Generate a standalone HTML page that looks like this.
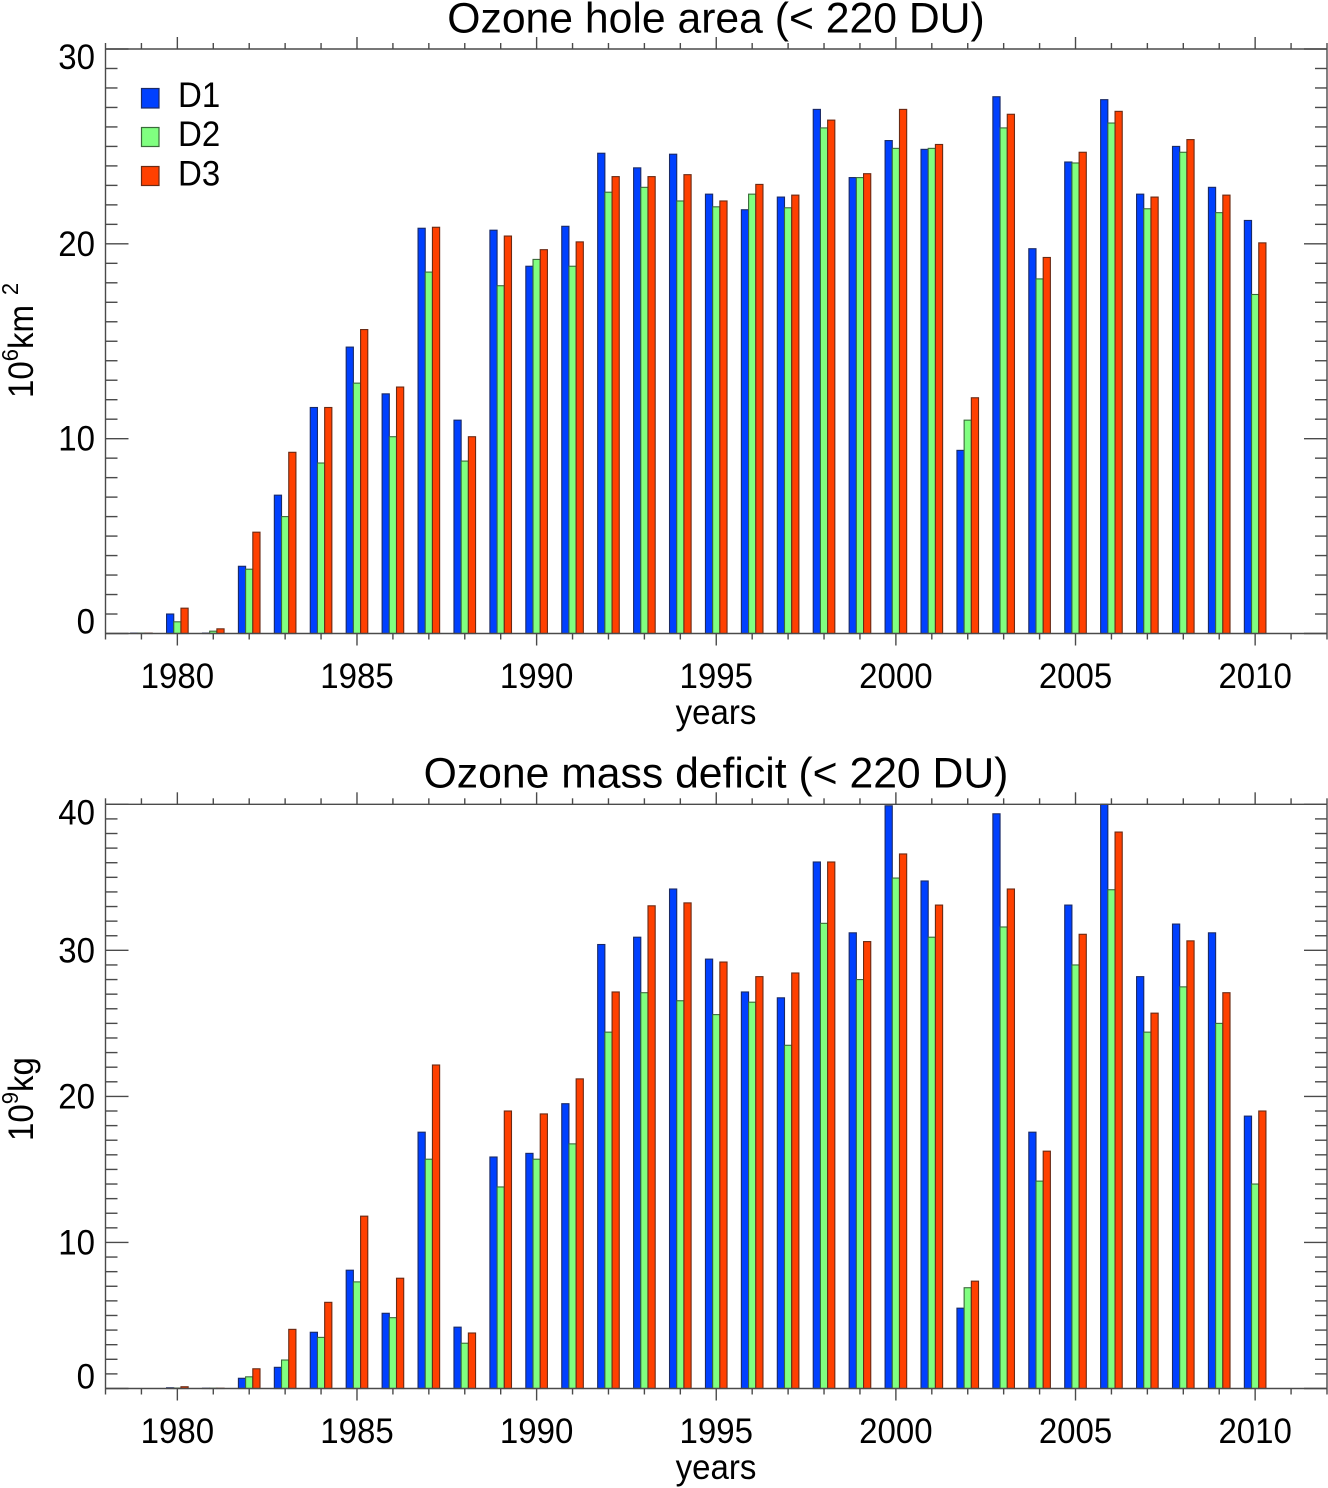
<!DOCTYPE html>
<html lang="en">
<head>
<meta charset="utf-8">
<title>Ozone hole area and mass deficit</title>
<style>
html,body{margin:0;padding:0;background:#fff}
svg{display:block}
text{font-family:"Liberation Sans",Arial,sans-serif;fill:#000}
</style>
</head>
<body>
<svg id="chart" xmlns="http://www.w3.org/2000/svg" width="1328" height="1488" viewBox="0 0 1328 1488">
  <rect x="0" y="0" width="1328" height="1488" fill="#fff"/>
  <text x="716" y="32.5" font-size="42.7" text-anchor="middle">Ozone hole area (&lt; 220 DU)</text>
  <text x="716" y="787.5" font-size="42.7" text-anchor="middle">Ozone mass deficit (&lt; 220 DU)</text>
  <text transform="translate(716,724) scale(1,1.06)" font-size="33" text-anchor="middle">years</text>
  <text transform="translate(716,1479) scale(1,1.06)" font-size="33" text-anchor="middle">years</text>
  <text transform="translate(33,398) rotate(-90) scale(1,1.06)" font-size="33">10<tspan font-size="22" dy="-14">6</tspan><tspan dy="14">km</tspan><tspan font-size="22" dy="-14" dx="10">2</tspan></text>
  <text transform="translate(33,1141) rotate(-90) scale(1,1.06)" font-size="33">10<tspan font-size="22" dy="-14">9</tspan><tspan dy="14">kg</tspan></text>
  <g>
    <rect x="141.5" y="88.5" width="17.5" height="19.5" fill="#0040ff" stroke="#1a2a66" stroke-width="1.2"/>
    <text transform="translate(178,107) scale(1,1.06)" font-size="33">D1</text>
    <rect x="141.5" y="127.5" width="17.5" height="19" fill="#80ff80" stroke="#3a6a3a" stroke-width="1.2"/>
    <text transform="translate(178,146) scale(1,1.06)" font-size="33">D2</text>
    <rect x="141.5" y="166.5" width="17.5" height="19" fill="#ff4000" stroke="#6a2a14" stroke-width="1.2"/>
    <text transform="translate(178,185.5) scale(1,1.06)" font-size="33">D3</text>
  </g>
  <g id="panels"></g>
</svg>
<script>
const years = [1979,1980,1981,1982,1983,1984,1985,1986,1987,1988,1989,1990,1991,1992,1993,1994,1995,1996,1997,1998,1999,2000,2001,2002,2003,2004,2005,2006,2007,2008,2009,2010];
const areaD1 = [0.02,1.0,0.02,3.45,7.1,11.6,14.7,12.3,20.8,10.95,20.7,18.85,20.9,24.65,23.9,24.6,22.55,21.75,22.4,26.9,23.4,25.3,24.85,9.4,27.55,19.75,24.2,27.4,22.55,25.0,22.9,21.2];
const areaD2 = [0.02,0.6,0.12,3.3,6.0,8.75,12.85,10.1,18.55,8.85,17.85,19.2,18.85,22.65,22.9,22.2,21.9,22.55,21.85,25.95,23.4,24.9,24.9,10.95,25.95,18.2,24.15,26.2,21.8,24.7,21.6,17.4];
const areaD3 = [0.02,1.3,0.24,5.2,9.3,11.6,15.6,12.65,20.85,10.1,20.4,19.7,20.1,23.45,23.45,23.55,22.2,23.05,22.5,26.35,23.6,26.9,25.1,12.1,26.65,19.3,24.7,26.8,22.4,25.35,22.5,20.05];
const massD1 = [0,0.05,0.02,0.7,1.45,3.85,8.1,5.15,17.55,4.2,15.85,16.1,19.5,30.4,30.9,34.2,29.4,27.15,26.75,36.05,31.2,39.9,34.75,5.5,39.35,17.55,33.1,40,28.2,31.8,31.2,18.65];
const massD2 = [0,0.03,0.02,0.8,1.95,3.5,7.3,4.85,15.7,3.1,13.8,15.7,16.75,24.4,27.1,26.55,25.6,26.45,23.5,31.85,28,34.95,30.9,6.9,31.6,14.2,29,34.15,24.4,27.5,25,14];
const massD3 = [0,0.12,0.02,1.35,4.05,5.9,11.8,7.55,22.15,3.8,19,18.8,21.2,27.15,33.05,33.25,29.2,28.2,28.45,36.05,30.6,36.6,33.1,7.35,34.2,16.25,31.1,38.1,25.7,30.65,27.1,19];
const xTickLabels = [1980,1985,1990,1995,2000,2005,2010];
const areaTickLabels = [0,10,20,30];
const massTickLabels = [0,10,20,30,40];

const NS = 'http://www.w3.org/2000/svg';
const root = document.getElementById('panels');
const seriesFill = ['#0040ff','#80ff80','#ff4000'];
const seriesStroke = ['#1a2a66','#3a6a3a','#6a2a14'];
const seriesKey = ['d1','d2','d3'];
const X_MIN = 1978, X_MAX = 2012;
const PLOT_LEFT = 105.5, PLOT_RIGHT = 1327;
const BAR_W = 7.2;
const AXIS = '#4a4a4a';

function xScale(v){ return PLOT_LEFT + (v - X_MIN) * (PLOT_RIGHT - PLOT_LEFT) / (X_MAX - X_MIN); }

function addLine(parent, x1, y1, x2, y2, name){
  const l = document.createElementNS(NS, 'line');
  l.setAttribute('x1', x1);
  l.setAttribute('y1', y1);
  l.setAttribute('x2', x2);
  l.setAttribute('y2', y2);
  l.setAttribute('stroke', AXIS);
  l.setAttribute('stroke-width', 1.4);
  
  
  parent.appendChild(l);
}

function addLabel(parent, x, y, anchor, str, name){
  const t = document.createElementNS(NS, 'text');
  t.setAttribute('transform', 'translate(' + x + ',' + y + ') scale(1,1.06)');
  t.setAttribute('text-anchor', anchor);
  t.setAttribute('font-size', 33);
  t.textContent = str;
  
  
  parent.appendChild(t);
}

function drawPanel(prefix, top, bottom, yMax, seriesList, yLabels){
  const yScale = v => bottom - v * (bottom - top) / yMax;
  const g = document.createElementNS(NS, 'g');
  
  
  root.appendChild(g);

  // bars
  years.forEach((yr, i) => {
    seriesList.forEach((vals, s) => {
      const v = vals[i];
      if (!(v > 0)) return;
      const cx = xScale(yr);
      const r = document.createElementNS(NS, 'rect');
      r.setAttribute('x', cx + (s - 1.5) * BAR_W);
      r.setAttribute('y', Math.max(yScale(v), top));
      r.setAttribute('width', BAR_W);
      r.setAttribute('height', Math.max(bottom - yScale(v), 0));
      r.setAttribute('fill', seriesFill[s]);
      r.setAttribute('stroke', seriesStroke[s]);
      r.setAttribute('stroke-width', 1.1);
      
      
      g.appendChild(r);
    });
  });

  // frame
  addLine(g, PLOT_LEFT, top, PLOT_RIGHT, top, prefix + '-top-axis');
  addLine(g, PLOT_LEFT, bottom, PLOT_RIGHT, bottom, prefix + '-x-axis');
  addLine(g, PLOT_LEFT, top, PLOT_LEFT, bottom, prefix + '-y-axis');
  addLine(g, PLOT_RIGHT, top, PLOT_RIGHT, bottom, prefix + '-right-axis');

  // x ticks (every year, major every five, drawn outward on both edges)
  for (let yr = X_MIN; yr <= X_MAX; yr++) {
    const major = yr % 5 === 0;
    const len = major ? 12 : 6;
    const px = xScale(yr);
    addLine(g, px, bottom, px, bottom + len, prefix + '-x-tick-' + yr);
    addLine(g, px, top, px, top - len, prefix + '-top-tick-' + yr);
  }
  xTickLabels.forEach(lab => {
    addLabel(g, xScale(lab), bottom + 54.5, 'middle', String(lab), prefix + '-x-label-' + lab);
  });

  // y ticks (every unit, major every ten, drawn inward on both edges)
  for (let v = 0; v <= yMax; v++) {
    const major = v % 10 === 0;
    const len = major ? 23 : 12;
    const py = yScale(v);
    addLine(g, PLOT_LEFT, py, PLOT_LEFT + len, py, prefix + '-y-tick-' + v);
    addLine(g, PLOT_RIGHT, py, PLOT_RIGHT - len, py, prefix + '-right-tick-' + v);
  }
  yLabels.forEach(lab => {
    const base = Math.max(Math.min(yScale(lab) + 12, bottom), top + 20);
    addLabel(g, 95, base, 'end', String(lab), prefix + '-y-label-' + lab);
  });
}

drawPanel('area', 49, 633.5, 30, [areaD1, areaD2, areaD3], areaTickLabels);
drawPanel('mass', 804.3, 1388.5, 40, [massD1, massD2, massD3], massTickLabels);
</script>
</body>
</html>
